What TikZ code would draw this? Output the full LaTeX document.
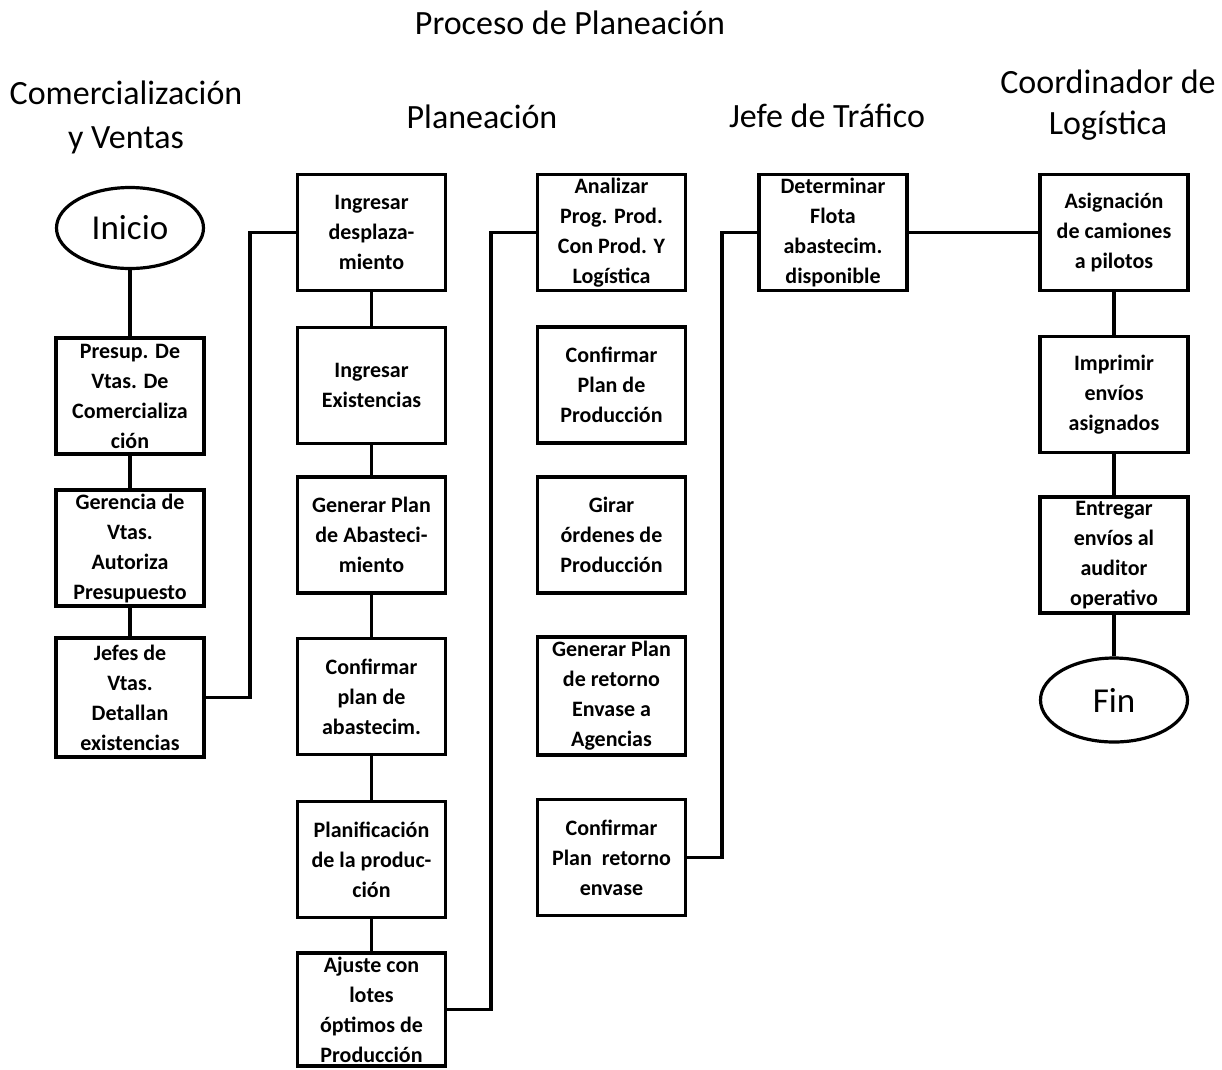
\documentclass[tikz,border=0pt]{standalone}
\usepackage{fontspec}
\setmainfont{Carlito}
\usetikzlibrary{shapes.geometric}
\begin{document}
\begin{tikzpicture}[x=1pt,y=-1pt,
  box/.style={draw, line width=3.2pt, minimum width=148pt, minimum height=116pt,
    inner sep=0pt, align=center, font=\fontsize{22}{30}\selectfont\bfseries},
  term/.style={draw, ellipse, line width=3.2pt, minimum width=147pt, minimum height=81pt,
    inner sep=0pt, font=\fontsize{35}{40}\selectfont},
  head/.style={align=center, font=\fontsize{34}{44}\selectfont},
  link/.style={line width=3.2pt}]
\fill[white] (0,0) rectangle (1222,1069);
\useasboundingbox (0,0) rectangle (1222,1069);

% headings
\node[head] (title) at (570,23) {Proceso de Planeación};
\node[head] (hcom) at (126,117) {Comercialización\\y Ventas};
\node[head] (hplan) at (482,117) {Planeación};
\node[head] (hjefe) at (827,116) {Jefe de Tráfico};
\node[head, font=\fontsize{34}{41}\selectfont] (hcoord) at (1108,105) {Coordinador de\\Logística};

% Comercialización y Ventas
\node[term] (inicio) at (130,228) {Inicio};
\node[box] (presup) at (130,396) {Presup. De\\Vtas. De\\Comercializa\\ción};
\node[box] (geren) at (130,548) {Gerencia de\\Vtas.\\Autoriza\\Presupuesto};
\node[box, minimum height=119pt] (jefes) at (130,697.5) {Jefes de\\Vtas.\\Detallan\\existencias};

% Planeación
\node[box] (ingdes) at (371.5,232.5) {Ingresar\\desplaza-\\miento};
\node[box] (ingexi) at (371.5,385.5) {Ingresar\\Existencias};
\node[box] (genabs) at (371.5,535) {Generar Plan\\de Abasteci-\\miento};
\node[box] (confabs) at (371.5,696.5) {Confirmar\\plan de\\abastecim.};
\node[box] (planif) at (371.5,859.5) {Planificación\\de la produc-\\ción};
\node[box, minimum height=113pt] (ajuste) at (371.5,1009.5) {Ajuste con\\lotes\\óptimos de\\Producción};

\node[box] (analiz) at (611.5,232.5) {Analizar\\Prog. Prod.\\Con Prod. Y\\Logística};
\node[box] (confprod) at (611.5,385) {Confirmar\\Plan de\\Producción};
\node[box] (girar) at (611.5,535) {Girar\\órdenes de\\Producción};
\node[box, minimum height=118pt] (genret) at (611.5,696) {Generar Plan\\de retorno\\Envase a\\Agencias};
\node[box] (confret) at (611.5,857.5) {Confirmar\\Plan\ \ retorno\\envase};

% Jefe de Tráfico
\node[box] (determ) at (833,232.5) {Determinar\\Flota\\abastecim.\\disponible};

% Coordinador de Logística
\node[box] (asign) at (1114,232.5) {Asignación\\de camiones\\a pilotos};
\node[box] (imprim) at (1114,394.5) {Imprimir\\envíos\\asignados};
\node[box] (entreg) at (1114,555) {Entregar\\envíos al\\auditor\\operativo};
\node[term, minimum height=84pt] (fin) at (1114,700) {Fin};

% riser columns for the connectors between lanes
\coordinate (r1) at (250,0);
\coordinate (r2) at (491,0);
\coordinate (r3) at (722,0);

% connectors
\draw[link] (inicio.south) -- (presup.north);
\draw[link] (presup) -- (geren);
\draw[link] (geren) -- (jefes);
\draw[link] (jefes.east) -- (jefes.east -| r1) |- (ingdes.west);

\draw[link] (ingdes) -- (ingexi);
\draw[link] (ingexi) -- (genabs);
\draw[link] (genabs) -- (confabs);
\draw[link] (confabs) -- (planif);
\draw[link] (planif) -- (ajuste);
\draw[link] (ajuste.east) -- (ajuste.east -| r2) |- (analiz.west);

\draw[link] (confret.east) -- (confret.east -| r3) |- (determ.west);
\draw[link] (determ.east) -- (asign.west);

\draw[link] (asign) -- (imprim);
\draw[link] (imprim) -- (entreg);
\draw[link] (entreg.south) -- (fin.north);
\end{tikzpicture}
\end{document}
